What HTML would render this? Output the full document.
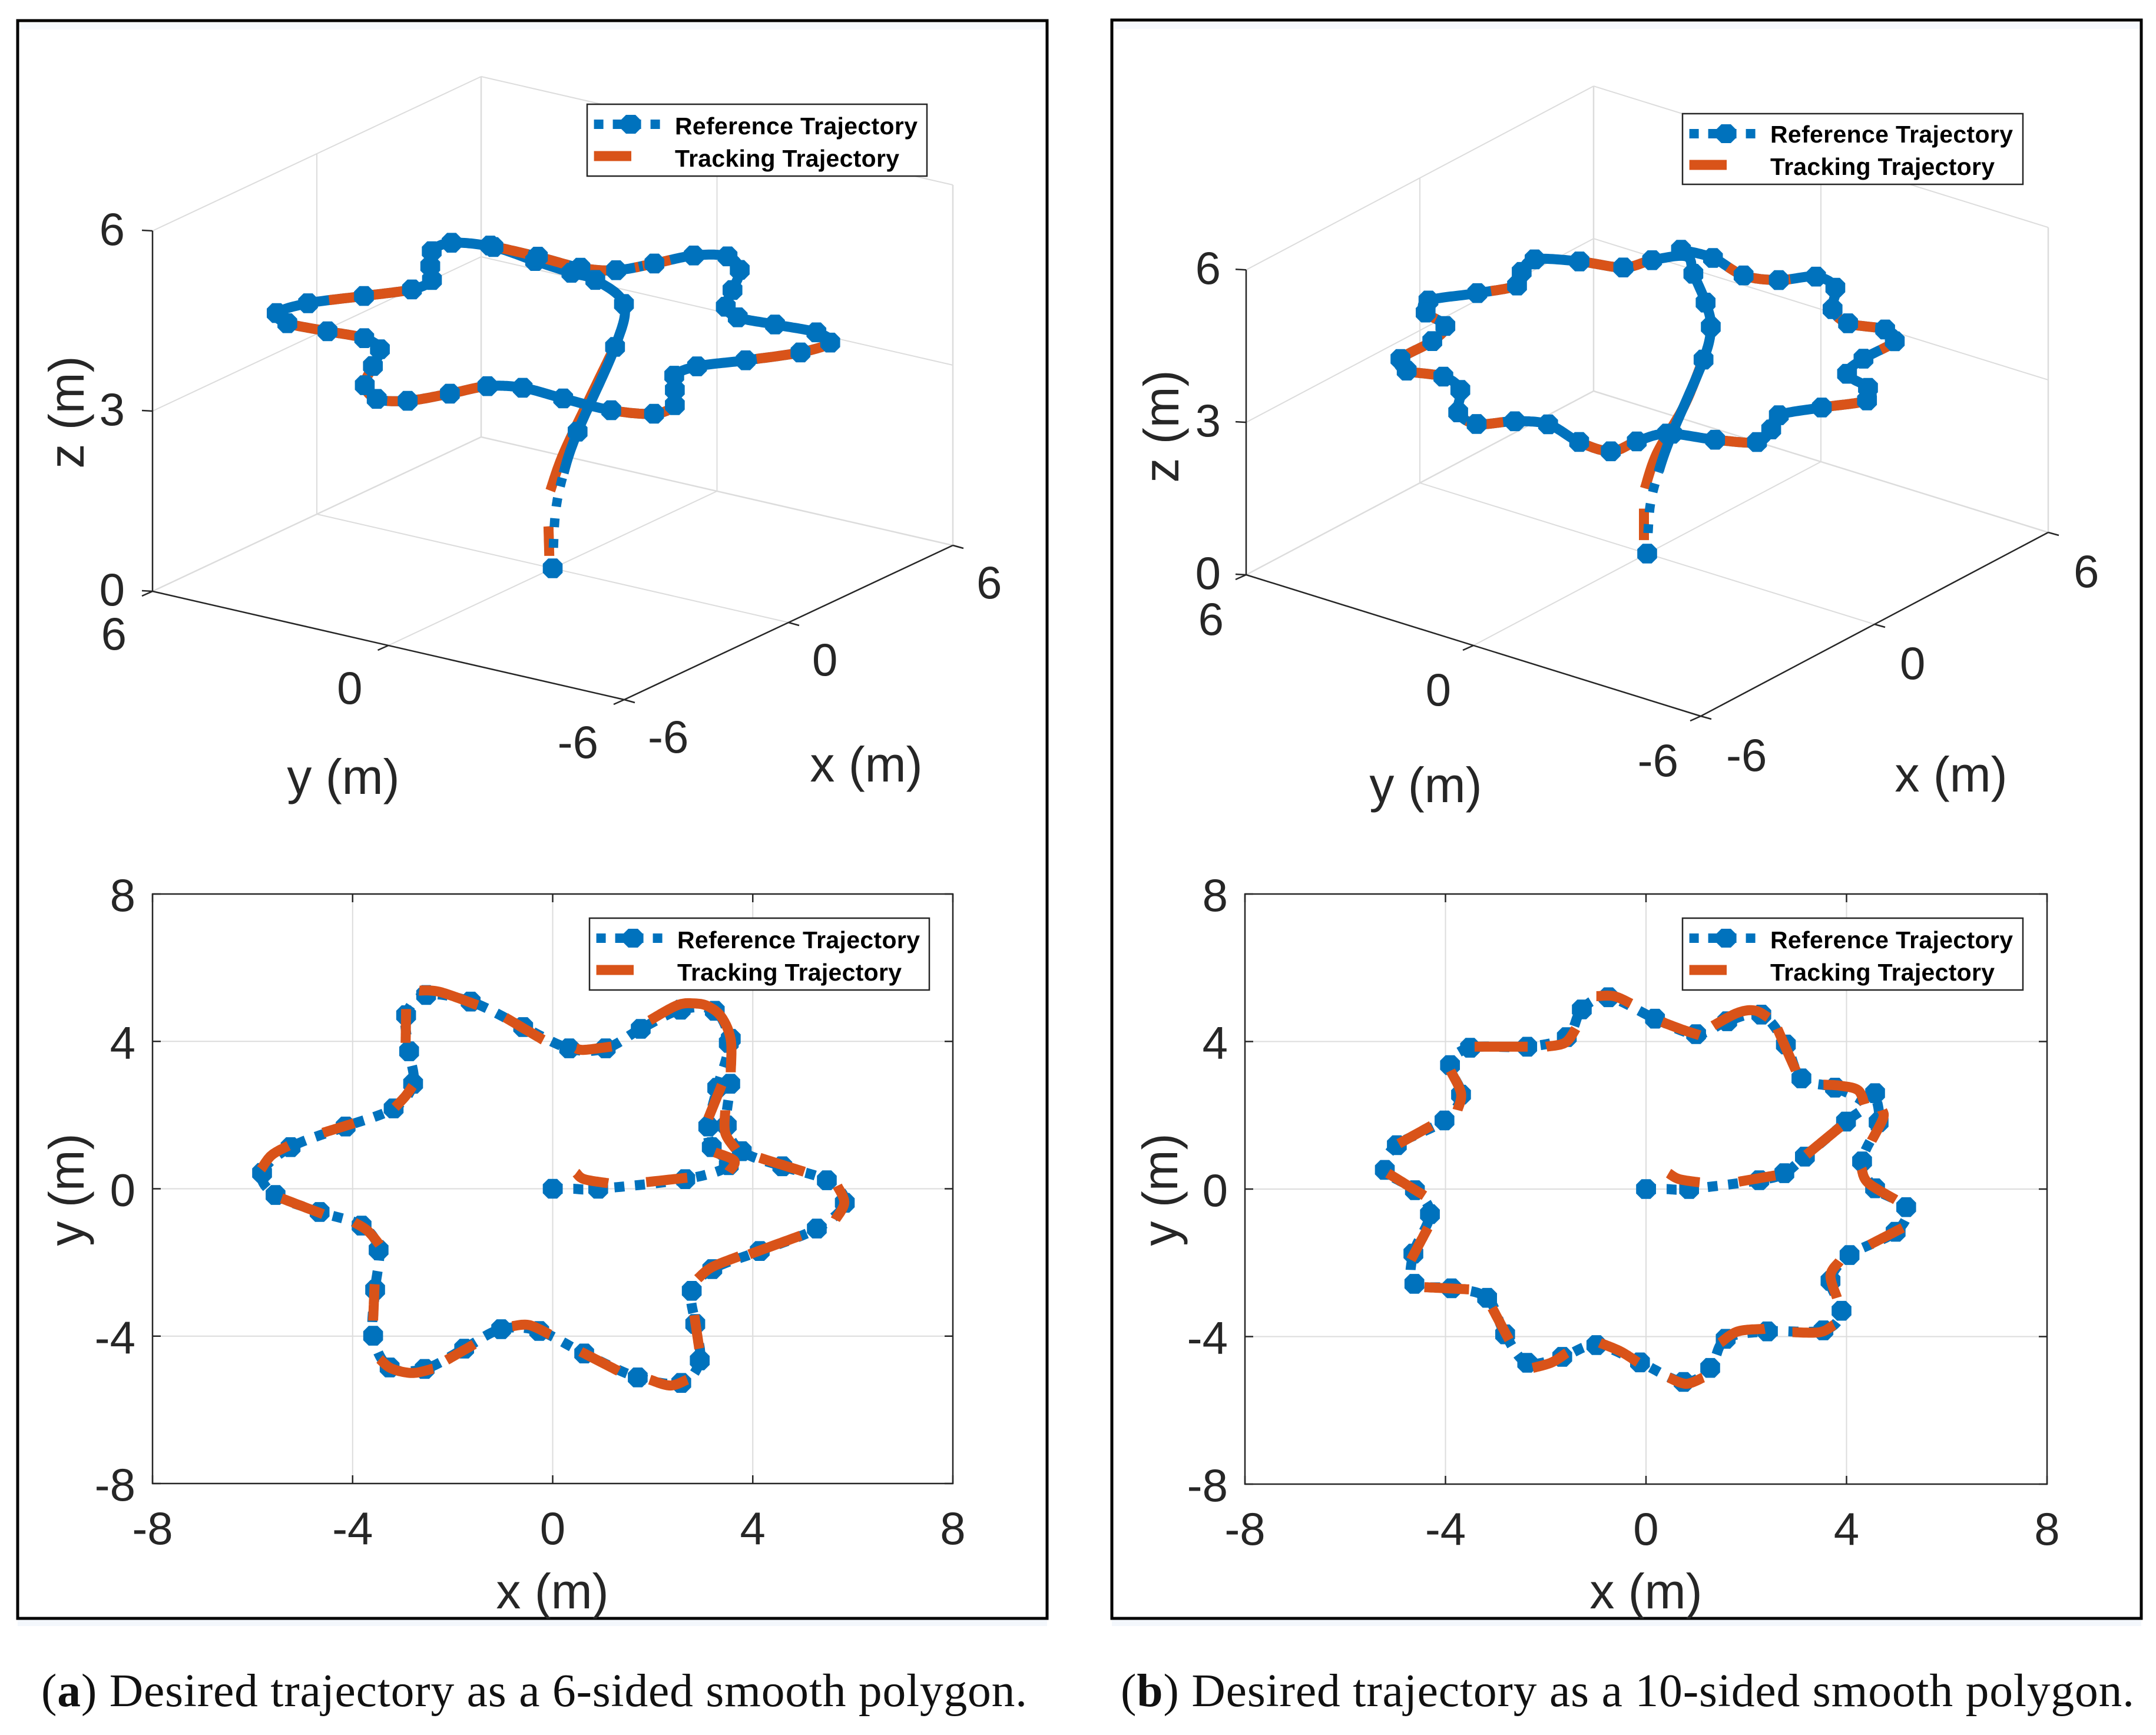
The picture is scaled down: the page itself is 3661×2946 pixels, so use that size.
<!DOCTYPE html>
<html lang="en">
<head>
<meta charset="utf-8">
<title>Trajectory tracking for smooth polygons</title>
<style>
html,body{margin:0;padding:0;background:#fff;}
svg{display:block;}
text{font-family:"Liberation Sans",Arial,sans-serif;fill:#262626;}
.tick{font-size:78px;}
.title{font-size:84px;}
.leg{font-size:41px;font-weight:bold;fill:#000;}
.cap{font-family:"Liberation Serif","Times New Roman",serif;font-size:79.5px;fill:#111;}
</style>
</head>
<body>
<svg id="fig" xmlns="http://www.w3.org/2000/svg" width="3661" height="2946" viewBox="0 0 3661 2946">
<rect x="0" y="0" width="3661" height="2946" fill="#ffffff"/>
<rect x="32" y="38" width="1744" height="12" fill="#f6f9fe"/>
<rect x="1891" y="37" width="1743" height="12" fill="#f6f9fe"/>
<rect x="30" y="2750" width="1748" height="11" fill="#f3f7fc"/>
<rect x="1888" y="2750" width="1748" height="11" fill="#f3f7fc"/>
<rect x="30" y="35" width="1748" height="2713" fill="none" stroke="#000" stroke-width="5"/>
<rect x="1888" y="34" width="1748" height="2714" fill="none" stroke="#000" stroke-width="5"/>

<g id="a3d"></g>
<g transform="translate(997 177)">
<rect x="0" y="0" width="577" height="122" fill="#fff" stroke="#262626" stroke-width="2.5"/>
<line x1="11.6" x2="123.6" y1="34" y2="34" stroke="#0072BD" stroke-width="16" stroke-dasharray="16 16"/>
<polygon points="66,18 82,18 90,26 90,42 82,50 66,50 58,42 58,26" fill="#0072BD"/>
<line x1="11.6" x2="75" y1="88" y2="88" stroke="#D95319" stroke-width="17"/>
<text class="leg" x="149" y="51" textLength="412">Reference Trajectory</text>
<text class="leg" x="149" y="106" textLength="381">Tracking Trajectory</text>
</g>
<text class="title" text-anchor="middle" x="583" y="1348">y (m)</text>
<text class="title" text-anchor="middle" x="1471" y="1327">x (m)</text>
<text class="title" text-anchor="middle" transform="translate(142 700) rotate(-90)">z (m)</text>

<g id="a2d"></g>
<g transform="translate(1001 1559)">
<rect x="0" y="0" width="577" height="122" fill="#fff" stroke="#262626" stroke-width="2.5"/>
<line x1="11.6" x2="123.6" y1="34" y2="34" stroke="#0072BD" stroke-width="16" stroke-dasharray="16 16"/>
<polygon points="66,18 82,18 90,26 90,42 82,50 66,50 58,42 58,26" fill="#0072BD"/>
<line x1="11.6" x2="75" y1="88" y2="88" stroke="#D95319" stroke-width="17"/>
<text class="leg" x="149" y="51" textLength="412">Reference Trajectory</text>
<text class="leg" x="149" y="106" textLength="381">Tracking Trajectory</text>
</g>
<text class="title" text-anchor="middle" x="938" y="2731">x (m)</text>
<text class="title" text-anchor="middle" transform="translate(142 2020) rotate(-90)">y (m)</text>

<g id="b3d"></g>
<g transform="translate(2857 193)">
<rect x="0" y="0" width="578" height="120" fill="#fff" stroke="#262626" stroke-width="2.5"/>
<line x1="11.6" x2="123.6" y1="34" y2="34" stroke="#0072BD" stroke-width="16" stroke-dasharray="16 16"/>
<polygon points="66,18 82,18 90,26 90,42 82,50 66,50 58,42 58,26" fill="#0072BD"/>
<line x1="11.6" x2="75" y1="87" y2="87" stroke="#D95319" stroke-width="17"/>
<text class="leg" x="149" y="49" textLength="412">Reference Trajectory</text>
<text class="leg" x="149" y="104" textLength="381">Tracking Trajectory</text>
</g>
<text class="title" text-anchor="middle" x="2421" y="1362">y (m)</text>
<text class="title" text-anchor="middle" x="3313" y="1344">x (m)</text>
<text class="title" text-anchor="middle" transform="translate(2001 724) rotate(-90)">z (m)</text>

<g id="b2d"></g>
<g transform="translate(2857 1559)">
<rect x="0" y="0" width="578" height="122" fill="#fff" stroke="#262626" stroke-width="2.5"/>
<line x1="11.6" x2="123.6" y1="34" y2="34" stroke="#0072BD" stroke-width="16" stroke-dasharray="16 16"/>
<polygon points="66,18 82,18 90,26 90,42 82,50 66,50 58,42 58,26" fill="#0072BD"/>
<line x1="11.6" x2="75" y1="88" y2="88" stroke="#D95319" stroke-width="17"/>
<text class="leg" x="149" y="51" textLength="412">Reference Trajectory</text>
<text class="leg" x="149" y="106" textLength="381">Tracking Trajectory</text>
</g>
<text class="title" text-anchor="middle" x="2795" y="2731">x (m)</text>
<text class="title" text-anchor="middle" transform="translate(1999 2020) rotate(-90)">y (m)</text>

<text class="cap" x="70" y="2897" textLength="1674">(<tspan font-weight="bold">a</tspan>) Desired trajectory as a 6-sided smooth polygon.</text>
<text class="cap" x="1903" y="2897" textLength="1721">(<tspan font-weight="bold">b</tspan>) Desired trajectory as a 10-sided smooth polygon.</text>
</svg>

<script>
// ---------- chart data ----------
const ticks2d = [-8, -4, 0, 4, 8];
const grid2d = [-4, 0, 4];
const ticksXY3d = [-6, 0, 6];
const ticksZ3d = [0, 3, 6];
const gridXY3d = [0];
const gridZ3d = [3, 6];

// Reference trajectory, 6-sided polygon: [x, y, z]
const refA = [[0,0,0],[.1,0,.9],[.4,0,1.5],[.91,0,2.08],[2.65,.26,3.08],[3.52,.64,3.55],[3.18,1.13,3.95],[3.11,1.69,4],[3.29,2.74,4],[3.52,3.96,4],[3.24,4.83,4],[2.56,4.86,4],[1.76,4.34,4],[1.06,3.81,4],[.33,3.81,4],[-.59,4.39,4],[-1.64,5.08,4],[-2.53,5.26,4],[-2.93,4.71,4],[-2.87,3.73,4],[-2.79,2.85,4],[-3.18,2.18,4],[-4.14,1.69,4],[-5.24,1.13,4],[-5.81,.43,4],[-5.54,-.17,4],[-4.66,-.63,4],[-3.82,-1,4],[-3.48,-1.66,4],[-3.55,-2.74,4],[-3.59,-3.99,4],[-3.26,-4.85,4],[-2.56,-4.89,4],[-1.77,-4.34,4],[-1.03,-3.81,4],[-.27,-3.86,4],[.63,-4.47,4],[1.7,-5.12,4],[2.57,-5.27,4],[2.94,-4.66,4],[2.85,-3.67,4],[2.78,-2.77,4],[3.19,-2.18,4],[4.14,-1.69,4],[5.28,-1.08,4],[5.84,-.38,4],[5.48,.23,4],[4.59,.61,4],[3.78,1.02,4],[3.48,1.72,4],[3.55,2.85,4],[3.56,4.07,4]];
// Reference trajectory, 10-sided polygon: [x, y, z]
const refB = [[0,0,0],[.1,0,.9],[.4,0,1.5],[.86,0,2.1],[2.26,.24,3.08],[2.76,.43,3.53],[3.17,.88,3.78],[3.99,1.83,3.88],[4.36,2.3,4],[3.77,2.75,4],[3.1,3,4],[2.79,3.92,4],[2.3,4.73,4],[1.62,4.55,4],[1,4.2,4],[.18,4.62,4],[-.75,5.2,4],[-1.28,4.87,4],[-1.58,4.12,4],[-2.37,3.86,4],[-3.51,3.83,4],[-3.91,3.36,4],[-3.69,2.56,4],[-4.02,1.86,4],[-4.97,1.19,4],[-5.21,.52,4],[-4.61,-.03,4],[-4.31,-.68,4],[-4.64,-1.75,4],[-4.62,-2.57,4],[-3.88,-2.69,4],[-3.17,-2.95,4],[-2.81,-3.94,4],[-2.37,-4.71,4],[-1.67,-4.55,4],[-.99,-4.23,4],[-.12,-4.7,4],[.75,-5.23,4],[1.28,-4.85,4],[1.59,-4.06,4],[2.42,-3.86,4],[3.54,-3.83,4],[3.9,-3.3,4],[3.68,-2.49,4],[4.06,-1.79,4],[4.98,-1.16,4],[5.19,-.49,4],[4.57,.02,4],[4.31,.75,4],[4.64,1.81,4],[4.57,2.6,4]];
// Reference samples that carry no marker (climb-out points)
const unmarkedA = [1, 2];
const unmarkedB = [1, 2, 8];

// Tracking trajectory as seen in the x-y views: visible dashes of [x, y]
const trackA = [
[[.47,.43],[.63,.26],[1.11,.15]],[[1.87,.18],[2.69,.3]],[[3.24,.99],[3.63,.76],[3.52,.46]],[[3.11,1.91],[3.38,2.82]],
[[3.56,3.16],[3.56,4.04],[3.38,4.65],[3.11,4.95],[2.83,5.03],[2.49,4.98],[1.94,4.57]],[[1.18,3.86],[.63,3.77],[.47,3.81]],
[[-.19,4.04],[-.95,4.65]],[[-1.5,4.98],[-2.25,5.34],[-2.67,5.38]],[[-2.93,4.88],[-2.94,3.96]],[[-2.8,2.79],[-2.94,2.52],[-3.15,2.21]],
[[-3.97,1.78],[-4.59,1.52]],[[-5.28,1.17],[-5.62,.91],[-5.83,.53]],[[-5.42,-.26],[-4.59,-.69]],[[-3.97,-.91],[-3.7,-1.14],[-3.46,-1.52]],
[[-3.56,-2.59],[-3.59,-3.58]],[[-3.46,-4.62],[-3.22,-4.88],[-2.8,-5],[-2.39,-4.88]],[[-2.12,-4.65],[-1.57,-4.22]],[[-.81,-3.73],[-.47,-3.7],[-.05,-3.96]],
[[.56,-4.42],[1.32,-4.95]],[[1.94,-5.18],[2.35,-5.34],[2.69,-5.18]],[[2.93,-4.34],[2.83,-3.43]],[[2.9,-2.44],[3.18,-2.13],[3.73,-1.83]],
[[3.93,-1.78],[4.96,-1.27]],[[5.65,-.84],[5.83,-.38],[5.69,.08]],[[5.03,.46],[4.14,.84]],[[3.66,1.07],[3.45,1.52],[3.45,2.13]]];
const trackB = [
[[.45,.43],[.66,.27],[1.07,.18]],[[1.85,.2],[2.58,.37]],[[3.2,.93],[3.88,1.69]],[[4.36,2.3],[4.23,2.68],[3.88,2.8],[3.54,2.83]],
[[2.99,3.21],[2.79,3.82],[2.62,4.35]],[[2.44,4.65],[2.17,4.84],[1.83,4.78],[1.34,4.43]],[[1.07,4.17],[.73,4.32],[.32,4.53]],[[-.3,5.03],[-.64,5.23],[-.99,5.23]],
[[-1.4,4.35],[-1.61,3.97],[-1.99,3.86]],[[-2.36,3.86],[-3.42,3.86]],[[-3.9,3.21],[-3.69,2.6],[-3.76,2.14]],[[-4.28,1.72],[-4.93,1.23]],
[[-5.15,.43],[-4.42,-.18]],[[-4.35,-1.05],[-4.69,-1.92]],[[-4.42,-2.66],[-3.53,-2.72]],[[-3.07,-3.22],[-2.73,-4.09]],
[[-2.26,-4.85],[-1.88,-4.7],[-1.58,-4.44]],[[-.92,-4.17],[-.51,-4.4],[-.16,-4.7]],[[.45,-5.11],[.8,-5.28],[1.14,-5.11]],[[1.48,-4.17],[1.83,-3.86],[2.37,-3.79]],
[[2.92,-3.88],[3.47,-3.88],[3.75,-3.68]],[[3.81,-2.95],[3.68,-2.34],[3.86,-1.96]],[[4.46,-1.51],[5.12,-1.05]],[[4.98,-.29],[4.43,.17],[4.3,.55]],[[4.5,1.31],[4.73,1.92],[4.71,2.14]]];

// Tracking trajectory climb-out as seen in the 3-D views: dashes of [x, y, z]
const climbA = [[[.45,.4,.05],[.42,.4,.55]],[[.2,.2,1.22],[.6,.15,1.75],[1.5,.1,2.5],[2.5,.25,3]]];
const climbB = [[[.45,.43,.03],[.45,.43,.65]],[[.25,.25,1.15],[.6,.2,1.75],[1.4,.1,2.45],[2.1,.2,3]]];
// Tracking trajectory visible on the 3-D loop: [from, to] positions along the reference samples
const spansA = [[14.2,15.6],[18,20.1],[21.7,22.7],[23.2,23.8],[24.4,26.9],[30.1,31],[31,31.6],[32.4,32.7],[33.2,33.4],[36.2,37.8],[46.6,47.3],[47.4,47.5],[48,49],[49.3,50],[50.2,51]];
const spansB = [[47,48],[48,48.5],[46.7,46.9],[10.2,10.9],[9.2,9.7],[14.1,14.7],[17.2,17.5],[18.4,18.7],[19.2,19.8],[21.2,21.9],[24.6,24.8],[25.2,25.7],[28.1,29],[29.3,29.9],[32.1,33],[36.1,37],[39.1,39.3],[40.5,40.9],[41,41.2],[42.3,42.8],[43.3,43.5]];

// ---------- drawing helpers ----------
const NS = 'http://www.w3.org/2000/svg';
const BLUE = '#0072BD', ORANGE = '#D95319', GRID = '#dcdcdc', AXIS = '#262626';

function add(parent, tag, attrs, txt) {
  const el = document.createElementNS(NS, tag);
  for (const k in attrs) el.setAttribute(k, attrs[k]);
  if (txt !== undefined) el.textContent = txt;
  parent.appendChild(el);
  return el;
}
function crAt(pts, t) {
  const n = pts.length - 1;
  const i = Math.max(0, Math.min(n - 1, Math.floor(t)));
  const u = Math.max(0, Math.min(1, t - i));
  const p0 = pts[Math.max(0, i - 1)], p1 = pts[i], p2 = pts[i + 1], p3 = pts[Math.min(n, i + 2)];
  return p1.map((_, k) => 0.5 * ((2 * p1[k]) + (-p0[k] + p2[k]) * u + (2 * p0[k] - 5 * p1[k] + 4 * p2[k] - p3[k]) * u * u + (-p0[k] + 3 * p1[k] - 3 * p2[k] + p3[k]) * u * u * u));
}
function curve(pts, a, b, project) {
  const out = [];
  const step = 0.05;
  for (let t = a; t < b; t += step) out.push(project(crAt(pts, t)));
  out.push(project(crAt(pts, b)));
  return out.map(p => p[0].toFixed(1) + ',' + p[1].toFixed(1)).join(' ');
}
function octagon(cx, cy) {
  const a = 16.8, b = 7.6;
  return [[-b,-a],[b,-a],[a,-b],[a,b],[b,a],[-b,a],[-a,b],[-a,-b]].map(o => (cx + o[0]).toFixed(1) + ',' + (cy + o[1]).toFixed(1)).join(' ');
}

// ---------- 2-D panel ----------
function draw2d(g, box, ref, unmarked, track) {
  const sx = v => box.l + (v + 8) / 16 * (box.r - box.l);
  const sy = v => box.b - (v + 8) / 16 * (box.b - box.t);
  const project = p => [sx(p[0]), sy(p[1])];

  grid2d.forEach(v => {
    const gx = add(g, 'line', { x1: sx(v), x2: sx(v), y1: box.t, y2: box.b, stroke: GRID, 'stroke-width': 2 });
    
    
    const gy = add(g, 'line', { x1: box.l, x2: box.r, y1: sy(v), y2: sy(v), stroke: GRID, 'stroke-width': 2 });
    
    
  });
  const frame = add(g, 'rect', { x: box.l, y: box.t, width: box.r - box.l, height: box.b - box.t, fill: 'none', stroke: AXIS, 'stroke-width': 2.5 });
  
  

  ticks2d.forEach(v => {
    const d = 'M' + sx(v) + ' ' + box.b + 'v-14M' + sx(v) + ' ' + box.t + 'v14M' + box.l + ' ' + sy(v) + 'h14M' + box.r + ' ' + sy(v) + 'h-14';
    const tm = add(g, 'path', { d: d, stroke: AXIS, 'stroke-width': 2.5, fill: 'none' });
    
    
    const tx = add(g, 'text', { class: 'tick', 'text-anchor': 'middle', x: sx(v), y: box.b + 103 }, String(v));
    
    
    const ty = add(g, 'text', { class: 'tick', 'text-anchor': 'end', x: box.l - 29, y: sy(v) + 29 }, String(v));
    
    
  });

  const line = add(g, 'polyline', { points: curve(ref, 0, ref.length - 1, project), fill: 'none', stroke: BLUE, 'stroke-width': 17, 'stroke-dasharray': '17 18' });
  
  

  ref.forEach((p, i) => {
    if (unmarked.includes(i)) return;
    const c = add(g, 'polygon', { points: octagon(sx(p[0]), sy(p[1])), fill: BLUE });
    
    
  });

  track.forEach(seg => {
    const s = add(g, 'polyline', { points: curve(seg, 0, seg.length - 1, project), fill: 'none', stroke: ORANGE, 'stroke-width': 17 });
    
    
  });
}

// ---------- 3-D panel ----------
function draw3d(g, box, ref, unmarked, spans, climb) {
  // box: left (x=-6,y=6), front (x=-6,y=-6), right (x=6,y=-6) floor corners; zUnit = pixels per metre
  const ux = [(box.right[0] - box.front[0]) / 12, (box.right[1] - box.front[1]) / 12];
  const uy = [(box.left[0] - box.front[0]) / 12, (box.left[1] - box.front[1]) / 12];
  const ox = (box.left[0] + box.right[0]) / 2, oy = (box.left[1] + box.right[1]) / 2;
  const project = p => [ox + p[0] * ux[0] + p[1] * uy[0], oy + p[0] * ux[1] + p[1] * uy[1] - p[2] * box.zUnit];
  const seg = (a, b, color, w, name) => {
    const pa = project(a), pb = project(b);
    const el = add(g, 'line', { x1: pa[0], y1: pa[1], x2: pb[0], y2: pb[1], stroke: color, 'stroke-width': w });
    
    
  };

  // back walls and floor grid
  gridXY3d.forEach(v => {
    seg([v, -6, 0], [v, 6, 0], GRID, 2, 'floor-grid-line');
    seg([-6, v, 0], [6, v, 0], GRID, 2, 'floor-grid-line');
    seg([v, 6, 0], [v, 6, 6], GRID, 2, 'wall-grid-line');
    seg([6, v, 0], [6, v, 6], GRID, 2, 'wall-grid-line');
  });
  gridZ3d.forEach(v => {
    seg([-6, 6, v], [6, 6, v], GRID, 2, 'wall-grid-line');
    seg([6, 6, v], [6, -6, v], GRID, 2, 'wall-grid-line');
  });
  seg([6, 6, 0], [6, 6, 6], GRID, 2.5, 'back-edge');
  seg([-6, 6, 0], [6, 6, 0], GRID, 2.5, 'floor-edge');
  seg([6, 6, 0], [6, -6, 0], GRID, 2.5, 'floor-edge');
  seg([6, -6, 0], [6, -6, 6], GRID, 2.5, 'right-edge');

  // axes
  seg([-6, 6, 0], [-6, 6, 6], AXIS, 2.5, 'z-axis-line');
  seg([-6, 6, 0], [-6, -6, 0], AXIS, 2.5, 'y-axis-line');
  seg([-6, -6, 0], [6, -6, 0], AXIS, 2.5, 'x-axis-line');

  ticksZ3d.forEach(v => {
    const p = project([-6, 6, v]);
    const t = add(g, 'line', { x1: p[0], y1: p[1], x2: p[0] - 18, y2: p[1] - 1, stroke: AXIS, 'stroke-width': 2.5 });
    
    
    const l = add(g, 'text', { class: 'tick', 'text-anchor': 'end', x: p[0] - box.zPad, y: p[1] + 24 }, String(v));
    
    
  });
  ticksXY3d.forEach(v => {
    const py = project([-6, v, 0]);
    const ty = add(g, 'line', { x1: py[0], y1: py[1], x2: py[0] - 18, y2: py[1] + 8, stroke: AXIS, 'stroke-width': 2.5 });
    
    
    const ly = add(g, 'text', { class: 'tick', 'text-anchor': 'end', x: py[0] - box.yPad, y: py[1] + box.yDrop }, String(v));
    
    
    const px = project([v, -6, 0]);
    const tx = add(g, 'line', { x1: px[0], y1: px[1], x2: px[0] + 18, y2: px[1] + 5, stroke: AXIS, 'stroke-width': 2.5 });
    
    
    const lx = add(g, 'text', { class: 'tick', 'text-anchor': 'start', x: px[0] + box.xPad, y: px[1] + box.xDrop }, String(v));
    
    
  });

  // series: climb-out tracking sits under the reference; loop spans above the line, below the markers
  climb.forEach(s => {
    const e = add(g, 'polyline', { points: curve(s, 0, s.length - 1, project), fill: 'none', stroke: ORANGE, 'stroke-width': 17 });
    
    
  });
  const dashed = add(g, 'polyline', { points: curve(ref, 0, 2, project), fill: 'none', stroke: BLUE, 'stroke-width': 16, 'stroke-dasharray': '15 20' });
  
  
  const solid = add(g, 'polyline', { points: curve(ref, 2, ref.length - 1, project), fill: 'none', stroke: BLUE, 'stroke-width': 17 });
  
  
  spans.forEach(s => {
    const e = add(g, 'polyline', { points: curve(ref, s[0], s[1], project), fill: 'none', stroke: ORANGE, 'stroke-width': 17 });
    
    
  });
  ref.forEach((p, i) => {
    if (unmarked.includes(i)) return;
    const q = project(p);
    const c = add(g, 'polygon', { points: octagon(q[0], q[1]), fill: BLUE });
    
    
  });
}

draw3d(document.getElementById('a3d'), { left: [259, 1004], front: [1060, 1188], right: [1618, 926], zUnit: 102, zPad: 47, yPad: 44, xPad: 40, yDrop: 99, xDrop: 90 }, refA, unmarkedA, spansA, climbA);
draw3d(document.getElementById('b3d'), { left: [2116, 976], front: [2888, 1216], right: [3478, 904], zUnit: 86.3, zPad: 43, yPad: 38, xPad: 43, yDrop: 102, xDrop: 93 }, refB, unmarkedB, spansB, climbB);
draw2d(document.getElementById('a2d'), { l: 259, r: 1618, t: 1518, b: 2519 }, refA, unmarkedA, trackA);
draw2d(document.getElementById('b2d'), { l: 2114, r: 3476, t: 1518, b: 2520 }, refB, unmarkedB, trackB);
</script>
</body>
</html>
